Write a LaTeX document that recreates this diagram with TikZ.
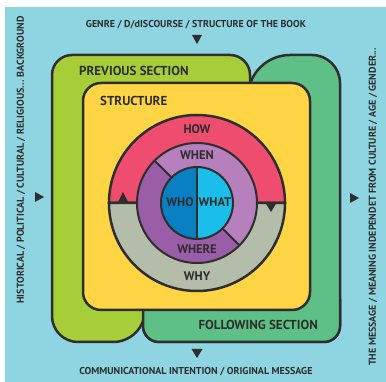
\documentclass[tikz,border=0pt]{standalone}
\usepackage{fontspec}
\setmainfont{PT Sans}
\usepackage{xcolor}
\usepackage{tikz}
\usetikzlibrary{positioning}
\definecolor{skyblue}{HTML}{8ED5E1}
\definecolor{limegreen}{HTML}{A6CE39}
\definecolor{leafgreen}{HTML}{5EBF87}
\definecolor{sunyellow}{HTML}{FFD445}
\definecolor{howred}{HTML}{EF4D70}
\definecolor{whygray}{HTML}{B3BDA9}
\definecolor{whenpurple}{HTML}{B580BC}
\definecolor{wherepurple}{HTML}{9A5DA7}
\definecolor{whoblue}{HTML}{0A80C3}
\definecolor{whatblue}{HTML}{1BBDEA}
\definecolor{inkgray}{HTML}{2E2E2E}
\tikzstyle{border} = [draw=inkgray, line width=2.5pt]
\tikzstyle{thinborder} = [draw=inkgray, line width=2pt]
\tikzstyle{sidelabel} = [text=inkgray, inner sep=0pt, font=\bfseries\fontsize{10}{11}\selectfont]
\tikzstyle{seclabel} = [text=inkgray, inner sep=0pt, font=\bfseries\fontsize{13}{14}\selectfont]
\tikzstyle{ringlabel} = [text=inkgray, inner sep=0pt, font=\bfseries\fontsize{12.5}{13}\selectfont]
\tikzstyle{tip} = [fill=inkgray]

\begin{document}
\begin{tikzpicture}[x=1pt, y=-1pt]
      \useasboundingbox (0,0) rectangle (386,382);
      \fill[skyblue] (5,7) rectangle (386,382);

      % Sections
      \filldraw[border, fill=leafgreen] (143,250) [rounded corners=16] -- (143,342) -- (340,342) [rounded corners=28] -- (340,55) [rounded corners=42] -- (248,55) [sharp corners] -- (248,250) -- cycle;
      \filldraw[border, fill=limegreen] (250,250) [rounded corners=20] -- (250,55) -- (52,55) [rounded corners=26] -- (52,342) [rounded corners=32] -- (145,342) [sharp corners] -- (145,250) -- cycle;
      \begin{scope}
        \clip (100,300) rectangle (386,382);
        \filldraw[border, fill=leafgreen] (143,250) [rounded corners=16] -- (143,342) -- (340,342) [rounded corners=28] -- (340,55) [rounded corners=42] -- (248,55) [sharp corners] -- (248,250) -- cycle;
      \end{scope}
      \filldraw[border, fill=sunyellow, rounded corners=18] (83,83) rectangle (310,310);

      % Place nodes
      \node [seclabel, anchor=west] (previous) at (79,71) {PREVIOUS SECTION};
      \node [seclabel, anchor=west] (structure) at (100,101) {STRUCTURE};
      \node [seclabel, anchor=east] (following) at (318,325) {FOLLOWING SECTION};

      \node [sidelabel] (genre) at (196,24.5) {GENRE / D/dISCOURSE / STRUCTURE OF THE BOOK};
      \node [sidelabel] (intention) at (196,372) {COMMUNICATIONAL INTENTION / ORIGINAL MESSAGE};
      \node [sidelabel, rotate=90] (background) at (21,160) {HISTORICAL / POLITICAL / CULTURAL / RELIGIOUS... BACKGROUND};
      \node [sidelabel, rotate=90] (message) at (373,207) {THE MESSAGE / MEANING INDEPENDET FROM CULTURE / AGE / GENDER...};

      % Arrow tips
      \fill[tip] (192,35) -- (202,35) -- (197,44) -- cycle;
      \fill[tip] (191.5,349) -- (202.5,349) -- (197,358) -- cycle;
      \fill[tip] (35,192) -- (35,202) -- (44,197) -- cycle;
      \fill[tip] (350,193) -- (350,203) -- (359,198) -- cycle;

      % Circle
      \begin{scope}[shift={(197,203)}, y=1pt]
        \filldraw[border, fill=howred] (-88,0) arc[start angle=180, end angle=0, radius=88] -- cycle;
        \filldraw[border, fill=whygray] (-88,0) arc[start angle=180, end angle=360, radius=88] -- cycle;
        \fill[tip] (-79.5,0) -- (-68.5,0) -- (-74,11) -- cycle;
        \fill[tip] (68.5,0) -- (79.5,0) -- (74,-9) -- cycle;

        \fill[whenpurple] (0,0) circle[radius=60];
        \fill[wherepurple] (135:60) arc[start angle=135, end angle=315, radius=60] -- cycle;
        \draw[thinborder] (0,0) circle[radius=60];
        \draw[thinborder] (135:36) -- (135:60);
        \draw[thinborder] (-45:36) -- (-45:60);

        \fill[whoblue] (0,36) arc[start angle=90, end angle=270, radius=36] -- cycle;
        \fill[whatblue] (0,36) arc[start angle=90, end angle=-90, radius=36] -- cycle;
        \draw[thinborder] (0,0) circle[radius=36];
        \draw[thinborder] (0,36) -- (0,-36);

        \node [ringlabel] (how) at (0,74) {HOW};
        \node [ringlabel] (when) at (0,48) {WHEN};
        \node [ringlabel] (who) at (-17,1) {WHO};
        \node [ringlabel] (what) at (18,1) {WHAT};
        \node [ringlabel] (where) at (0,-46) {WHERE};
        \node [ringlabel] (why) at (0,-73) {WHY};
      \end{scope}
    \end{tikzpicture}
\end{document}
